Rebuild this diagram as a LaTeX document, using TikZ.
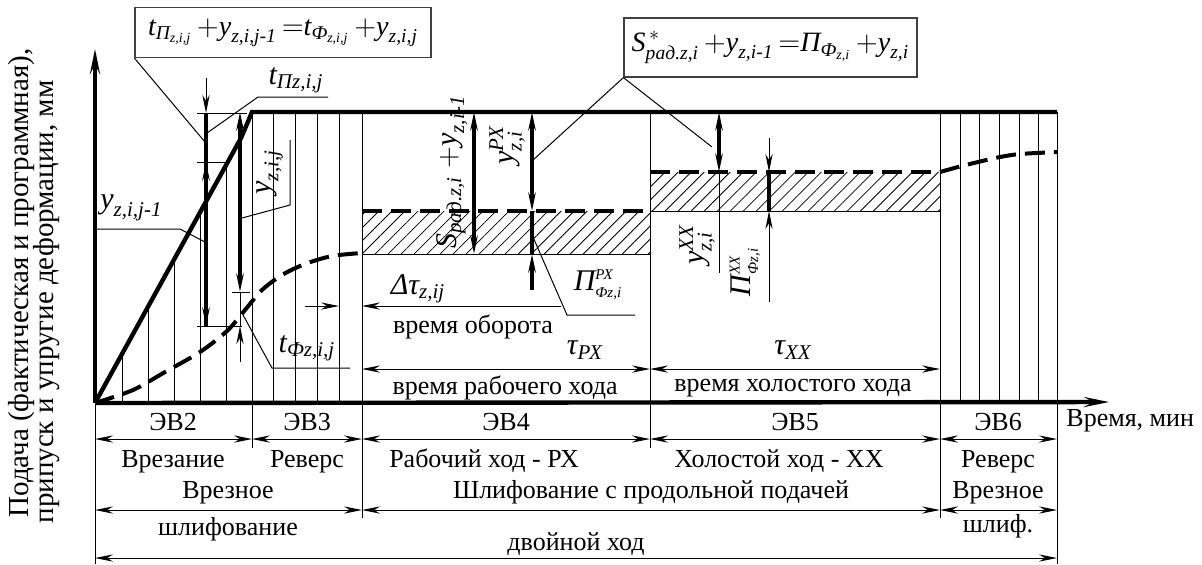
\documentclass[tikz,border=0pt]{standalone}
\usepackage{amsmath}
\usepackage{fontspec}
\setmainfont{Liberation Serif}
\usetikzlibrary{arrows.meta,patterns.meta}

\newcommand{\iv}[1]{\textit{#1}}

\begin{document}
\begin{tikzpicture}[
        x=0.5pt, y=-0.5pt,
        >={Stealth[length=9pt,width=3.6pt]},
        axisarrow/.style={-{Stealth[length=12pt,width=4.4pt]}},
        thickln/.style={line width=2.2pt},
        thinln/.style={line width=0.5pt},
        dashln/.style={line width=2pt, dash pattern=on 10pt off 4.5pt},
        hatchbox/.style={pattern={Lines[angle=45,distance=4.6pt,line width=0.4pt]}},
        lbl/.style={font=\fontsize{13}{15}\selectfont, inner sep=0pt},
        mlbl/.style={font=\fontsize{15}{17}\selectfont, inner sep=0pt},
        eqbox/.style={draw=black!75, line width=0.6pt, font=\fontsize{14}{16}\selectfont, inner sep=0pt, minimum height=25pt}
    ]
    \useasboundingbox (0,0) rectangle (1202,564);

    % ==========================================
    % 1. Zones (hatched) and grid lines
    % ==========================================
    \coordinate (O) at (95,403);
    \path[hatchbox] (362,211) rectangle (650,254);
    \path[hatchbox] (650,172) rectangle (940,211);

    % verticals under the ramp (ЭВ2)
    \foreach \x in {122,148,174,200,226} {
        \draw[thinln] (\x,403) -- (\x,{403-(\x-95)/145*263});
    }
    % verticals from the upper level
    \foreach \x in {252,273,295,317,339,362,650,940,960,979,999,1019,1038,1057} {
        \draw[thinln] (\x,112) -- (\x,403);
    }
    \draw[thinln] (362,254) -- (650,254);
    \draw[thinln] (650,211) -- (940,211);

    % ==========================================
    % 2. Feed lines and axes
    % ==========================================
    \draw[thickln] (O) -- (241,138) .. controls (247,124) .. (252,112) -- (1057,112);
    \draw[dashln] plot[smooth] coordinates {(95,403) (133,390) (165,372) (200,352) (227,331) (245,310) (262,290) (282,275) (305,264) (332,256) (362,253)};
    \draw[dashln] (362,211) -- (650,211);
    \draw[dashln] (650,172) -- (940,172);
    \draw[dashln] plot[smooth] coordinates {(940,172) (958,167) (978,162) (1000,157) (1020,154) (1057,152)};

    \draw[thickln, axisarrow] (O) -- (95,48);
    \draw[thickln, axisarrow] (O) -- (1110,402);

    % ==========================================
    % 3. Dimensions in ЭВ2 / ЭВ3
    % ==========================================
    \draw[thinln] (197,113) -- (247,113);
    \draw[thinln] (197,162) -- (228,162);
    \draw[thinln] (197,326) -- (242,326);
    \draw[thinln] (232,292) -- (250,292);
    \draw[thinln, ->] (206,78) -- (206,113);
    \draw[thickln] (206,113) -- (206,326);
    \draw[thickln, ->] (206,200) -- (206,162);
    \draw[thickln, ->] (206,290) -- (206,326);
    \draw[thickln, <->] (240,112) -- (240,292);
    \draw[thinln] (240,292) -- (240,326);
    \draw[thinln, ->] (240,362) -- (240,326);

    \draw[thinln, ->] (305,306) -- (339,306);
    \draw[thinln, ->] (561,306) -- (362,306);
    \draw[thinln, <->] (362,369) -- (650,369);
    \draw[thinln, <->] (650,369) -- (940,369);

    % ==========================================
    % 4. Dimensions in ЭВ4 / ЭВ5
    % ==========================================
    \draw[thickln, <->] (474,112) -- (474,254);
    \draw[thickln, <->] (532,112) -- (532,211);
    \draw[thickln] (532,211) -- (532,254);
    \draw[thickln, ->] (532,290) -- (532,254);

    \draw[thickln, <->] (719,112) -- (719,172);
    \draw[thinln] (719,172) -- (719,273);
    \draw[thinln, ->] (769,138) -- (769,172);
    \draw[thickln] (769,172) -- (769,211);
    \draw[thinln, ->] (769,302) -- (769,211);

    % ==========================================
    % 5. Labels and leaders
    % ==========================================
    \node[eqbox, minimum width=148pt] (eq1) at (283,32.5) {$\iv{t}_{\iv{П}_{\iv{z,i,j}}}\,{+}\iv{y}_{\iv{z,i,j-1}}\,{=}\iv{t}_{\iv{Ф}_{\iv{z,i,j}}}\,{+}\iv{y}_{\iv{z,i,j}}$};
    \node[eqbox, minimum width=146.5pt, minimum height=29.5pt] (eq2) at (770.5,47.5) {$\iv{S}^{\,*}_{\iv{рад.z,i}}\,{+}\iv{y}_{\iv{z,i-1}}\,{=}\iv{П}_{\iv{Ф}_{\iv{z,i}}}\,{+}\iv{y}_{\iv{z,i}}$};
    \draw[thinln] (eq1.south west) -- (205,142);
    \draw[thinln] (eq2.south west) -- (533,160);
    \draw[thinln] (eq2.south west) -- (712,147);

    \node[mlbl] (tp) at (296,80) {$\iv{t}_{\iv{Пz,i,j}}$};
    \draw[thinln] (328,97) -- (258,97) -- (207,133);
    \node[mlbl, anchor=west] (yj1) at (100,208) {$\iv{y}_{\iv{z,i,j-1}}$};
    \draw[thinln] (95,229) -- (180,229) -- (205,242);
    \node[mlbl, rotate=90] (yj) at (270,172) {$\iv{y}_{\iv{z,i,j}}$};
    \draw[thinln] (242,218) -- (290,205) -- (290,140);
    \node[mlbl] (tf) at (307,348) {$\iv{t}_{\iv{Фz,i,j}}$};
    \draw[thinln] (242,313) -- (272,368) -- (350,368);

    \node[mlbl] (dtau) at (418,289) {$\iv{Δτ}_{\iv{z,ij}}$};
    \node[lbl] (turn) at (473,327) {время оборота};
    \node[mlbl] (tpx) at (585,350) {$\iv{τ}_{\iv{РХ}}$};
    \node[lbl] (trx) at (505,388) {время рабочего хода};
    \node[mlbl] (txx) at (793,350) {$\iv{τ}_{\iv{ХХ}}$};
    \node[lbl] (thx) at (793,388) {время холостого хода};

    \node[mlbl, rotate=90] (srad) at (452,172) {$\iv{S}_{\iv{рад.z,i}}\;{+}\iv{y}_{\iv{z,i-1}}$};
    \node[mlbl, rotate=90] (ypx) at (507,145) {$\iv{y}^{\iv{РХ}}_{\iv{z,i}}$};
    \node[mlbl] (ppx) at (598,285) {$\iv{П}^{\scriptscriptstyle\iv{РХ}}_{\scriptscriptstyle\iv{Фz,i}}$};
    \draw[thinln] (533,237) -- (567,315) -- (635,315);
    \node[mlbl, rotate=90] (yxx) at (697,245) {$\iv{y}^{\iv{ХХ}}_{\iv{z,i}}$};
    \node[mlbl, rotate=90] (pxx) at (745,272) {$\iv{П}^{\scriptscriptstyle\iv{ХХ}}_{\scriptscriptstyle\iv{Фz,i}}$};

    \node[lbl, font=\fontsize{14.5}{16}\selectfont, rotate=90] (ylab1) at (22,283) {Подача (фактическая и программная),};
    \node[lbl, font=\fontsize{14.5}{16}\selectfont, rotate=90] (ylab2) at (47,302) {припуск и упругие деформации, мм};
    \node[lbl, anchor=west] (tlab) at (1066,421) {Время, мин};

    % ==========================================
    % 6. Table of stages
    % ==========================================
    \draw[thinln] (95,403) -- (95,564);
    \draw[thinln] (252,403) -- (252,448);
    \draw[thinln] (362,403) -- (362,518);
    \draw[thinln] (650,403) -- (650,448);
    \draw[thinln] (940,403) -- (940,518);
    \draw[thinln] (1057,403) -- (1057,564);

    \foreach \a/\b in {95/252, 252/362, 362/650, 650/940, 940/1057} {
        \draw[thinln, <->] (\a,439) -- (\b,439);
    }
    \foreach \a/\b in {95/362, 362/940, 940/1057} {
        \draw[thinln, <->] (\a,510) -- (\b,510);
    }
    \draw[thinln, <->] (95,558) -- (1057,558);

    \node[lbl, anchor=base] (ev2) at (173,430) {ЭВ2};
    \node[lbl, anchor=base] (ev3) at (307,430) {ЭВ3};
    \node[lbl, anchor=base] (ev4) at (506,430) {ЭВ4};
    \node[lbl, anchor=base] (ev5) at (795,430) {ЭВ5};
    \node[lbl, anchor=base] (ev6) at (998,430) {ЭВ6};

    \node[lbl, anchor=base] (cut) at (173,467) {Врезание};
    \node[lbl, anchor=base] (rev1) at (307,467) {Реверс};
    \node[lbl, anchor=base] (work) at (484,467) {Рабочий ход - РХ};
    \node[lbl, anchor=base] (idle) at (779,467) {Холостой ход - ХХ};
    \node[lbl, anchor=base] (rev2) at (998,467) {Реверс};

    \node[lbl, anchor=base] (plg1) at (228,498) {Врезное};
    \node[lbl, anchor=base] (trav) at (651,498) {Шлифование с продольной подачей};
    \node[lbl, anchor=base] (plg2) at (998,498) {Врезное};

    \node[lbl, anchor=base] (grd1) at (228,535) {шлифование};
    \node[lbl, anchor=base] (grd2) at (998,532) {шлиф.};
    \node[lbl, anchor=base] (dbl) at (576,550) {двойной ход};

\end{tikzpicture}
\end{document}
